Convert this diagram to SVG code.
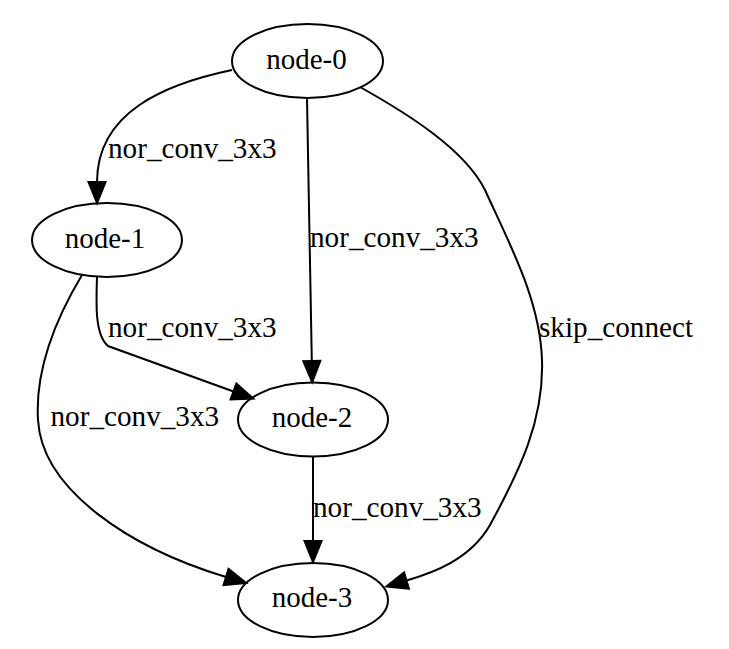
<svg xmlns="http://www.w3.org/2000/svg" width="729" height="649" viewBox="0 0 729 649">
<style>
.node ellipse{fill:none;stroke:#000;stroke-width:2}
.node text{font-family:"Liberation Serif","Times New Roman",serif;font-size:29px;text-anchor:middle;fill:#000}
.edge path{fill:none;stroke:#000;stroke-width:2}
.lbl{font-family:"Liberation Serif","Times New Roman",serif;font-size:29.2px;fill:#000}
</style>
<defs>
<marker id="arr" markerUnits="userSpaceOnUse" viewBox="-1 -1 24 19" refX="0" refY="8.5" markerWidth="24" markerHeight="19" orient="auto" overflow="visible">
<path d="M0,0 L21,8.5 L0,17 Z" fill="#000" stroke="#000" stroke-width="2"/>
</marker>
</defs>
<rect width="729" height="649" fill="#fff"/>
<g id="connectors">
<g class="edge" id="e01">
<path d="M232,70 C165,84 97,112 97,182" marker-end="url(#arr)"/>
<text class="lbl" x="108" y="158">nor_conv_3x3</text>
</g>
<g class="edge" id="e02">
<path d="M307,98 L311.8,361" marker-end="url(#arr)"/>
<text class="lbl" x="310" y="246.5">nor_conv_3x3</text>
</g>
<g class="edge" id="e03">
<path d="M360,87 C410,115 465,150 485,190 C510,245 540,300 542,360 C544,420 520,470 490,525 C470,560 432,573 406.5,580.5" marker-end="url(#arr)"/>
<text class="lbl" x="539" y="337">skip_connect</text>
</g>
<g class="edge" id="e12">
<path d="M97,277 C96,305 95,335 108,346 L233.5,391.5" marker-end="url(#arr)"/>
<text class="lbl" x="108" y="336.5">nor_conv_3x3</text>
</g>
<g class="edge" id="e13">
<path d="M82,275 C55,320 35,370 38,420 C42,490 130,548 226,577" marker-end="url(#arr)"/>
<text class="lbl" x="50.5" y="425.5">nor_conv_3x3</text>
</g>
<g class="edge" id="e23">
<path d="M313,456 L313,541" marker-end="url(#arr)"/>
<text class="lbl" x="313" y="516.5">nor_conv_3x3</text>
</g>
</g>
<g class="node" id="node-0">
<ellipse cx="307.5" cy="61" rx="75.5" ry="37"/>
<text x="306.5" y="68.5">node-0</text>
</g>
<g class="node" id="node-1">
<ellipse cx="107" cy="240" rx="75" ry="37"/>
<text x="105" y="247.5">node-1</text>
</g>
<g class="node" id="node-2">
<ellipse cx="313" cy="419.5" rx="75" ry="37"/>
<text x="312" y="427">node-2</text>
</g>
<g class="node" id="node-3">
<ellipse cx="313" cy="600" rx="75" ry="37"/>
<text x="312" y="606.5">node-3</text>
</g>
</svg>
